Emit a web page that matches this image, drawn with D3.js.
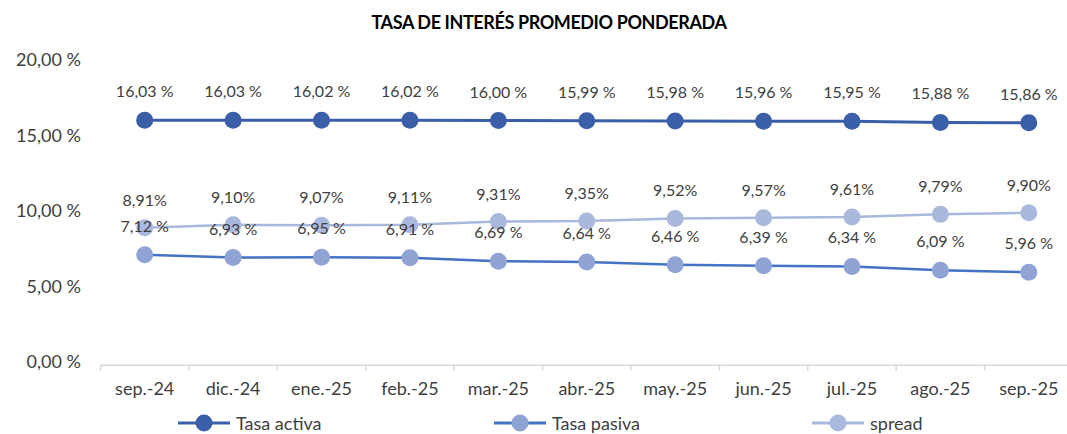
<!DOCTYPE html>
<html><head><meta charset="utf-8">
<script src="https://cdn.jsdelivr.net/npm/d3@7"></script>
<style>body{margin:0;background:#fff}svg{display:block}text{font-family:Lato,"Open Sans",sans-serif}</style>
</head><body>
<svg id="c" width="1067" height="434"></svg>
<script>
const categories = ["sep.-24","dic.-24","ene.-25","feb.-25","mar.-25","abr.-25","may.-25","jun.-25","jul.-25","ago.-25","sep.-25"];
const tasaActiva = [16.03,16.03,16.02,16.02,16.00,15.99,15.98,15.96,15.95,15.88,15.86];
const tasaPasiva = [7.12,6.93,6.95,6.91,6.69,6.64,6.46,6.39,6.34,6.09,5.96];
const spread = [8.91,9.10,9.07,9.11,9.31,9.35,9.52,9.57,9.61,9.79,9.90];
const yTicks = [0,5,10,15,20];
const seriesNames = ["Tasa activa","Tasa pasiva","spread"];

const svg = d3.select("#c");
const x = d3.scaleBand().domain(categories).range([100.5,1073]);
const y = d3.scaleLinear().domain([0,20]).range([362.2,60.2]);
const fmt = v => d3.format(".2f")(v).replace(".", ",");

svg.append("text").attr("x",549).attr("y",29).attr("text-anchor","middle")
  .attr("font-size",18).attr("font-weight","bold").attr("letter-spacing","-0.4").attr("fill","#000")
  .text("TASA DE INTERÉS PROMEDIO PONDERADA");

// y labels
svg.selectAll(".yl").data(yTicks).enter().append("text")
  .attr("x",81).attr("y",d=>y(d)+6).attr("text-anchor","end")
  .attr("font-size",18).attr("fill","#404040").text(d=>fmt(d)+" %");

// x axis
const base = y(0)+2.5;
const xa = svg.append("g").attr("transform",`translate(0,${base})`)
  .call(d3.axisBottom(x).tickSize(0).tickPadding(18));
xa.select(".domain").attr("stroke","#D9D9D9").attr("stroke-width",1.5);
xa.selectAll("text").attr("font-size",18).attr("fill","#404040").attr("font-family","Lato,'Open Sans',sans-serif");
const edges = categories.map(c=>x(c)).concat([x.range()[1]]);
svg.selectAll(".tk").data(edges).enter().append("line")
  .attr("x1",d=>d).attr("x2",d=>d).attr("y1",base).attr("y2",base+6)
  .attr("stroke","#D9D9D9").attr("stroke-width",1.5);

const cx = c => x(c)+x.bandwidth()/2;
const series = [
  {name:seriesNames[2], vals:spread, line:"#A9B8DD", mark:"#A9B8DD", lw:2.5, dy:-22, lab:v=>fmt(v)+"%"},
  {name:seriesNames[1], vals:tasaPasiva, line:"#4472C4", mark:"#8FA3D5", lw:2.5, dy:-23, lab:v=>fmt(v)+" %"},
  {name:seriesNames[0], vals:tasaActiva, line:"#3A5FA8", mark:"#3A5FA8", lw:3, dy:-23, lab:v=>fmt(v)+" %"}
];
const line = d3.line().x((d,i)=>cx(categories[i])).y(d=>y(d));
series.forEach(s=>{
  svg.append("path").datum(s.vals).attr("d",line).attr("fill","none")
    .attr("stroke",s.line).attr("stroke-width",s.lw);
  svg.selectAll(null).data(s.vals).enter().append("circle")
    .attr("cx",(d,i)=>cx(categories[i])).attr("cy",d=>y(d)).attr("r",8.5).attr("fill",s.mark);
});
series.forEach(s=>{
  svg.selectAll(null).data(s.vals).enter().append("text")
    .attr("x",(d,i)=>cx(categories[i])).attr("y",d=>y(d)+s.dy).attr("text-anchor","middle")
    .attr("font-size",16).attr("fill","#404040").text(s.lab);
});

// legend
const leg = [
  {name:seriesNames[0], line:"#3A5FA8", mark:"#3A5FA8", x0:178},
  {name:seriesNames[1], line:"#4472C4", mark:"#8FA3D5", x0:494},
  {name:seriesNames[2], line:"#A9B8DD", mark:"#A9B8DD", x0:812}
];
leg.forEach(l=>{
  const g = svg.append("g").attr("transform",`translate(${l.x0},423)`);
  g.append("line").attr("x1",0).attr("x2",52).attr("stroke",l.line).attr("stroke-width",3);
  g.append("circle").attr("cx",26).attr("r",8.5).attr("fill",l.mark);
  g.append("text").attr("x",58).attr("y",6.5).attr("font-size",18).attr("fill","#404040").text(l.name);
});
</script>
</body></html>
